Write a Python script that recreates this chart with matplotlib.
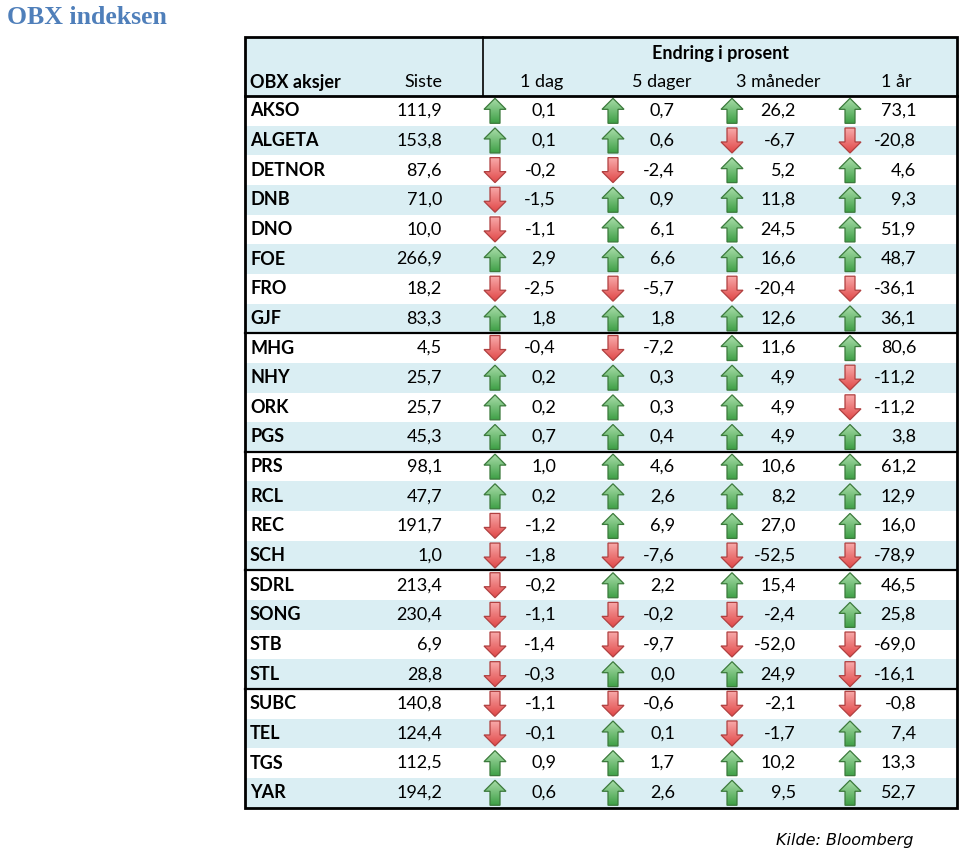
import matplotlib
matplotlib.use('Agg')
import matplotlib.pyplot as plt
from matplotlib.patches import Polygon, Rectangle
import numpy as np

tickers = ['AKSO', 'ALGETA', 'DETNOR', 'DNB', 'DNO', 'FOE', 'FRO', 'GJF',
           'MHG', 'NHY', 'ORK', 'PGS', 'PRS', 'RCL', 'REC', 'SCH',
           'SDRL', 'SONG', 'STB', 'STL', 'SUBC', 'TEL', 'TGS', 'YAR']
siste = [111.9, 153.8, 87.6, 71.0, 10.0, 266.9, 18.2, 83.3,
         4.5, 25.7, 25.7, 45.3, 98.1, 47.7, 191.7, 1.0,
         213.4, 230.4, 6.9, 28.8, 140.8, 124.4, 112.5, 194.2]
chg_1d = [0.1, 0.1, -0.2, -1.5, -1.1, 2.9, -2.5, 1.8,
          -0.4, 0.2, 0.2, 0.7, 1.0, 0.2, -1.2, -1.8,
          -0.2, -1.1, -1.4, -0.3, -1.1, -0.1, 0.9, 0.6]
chg_5d = [0.7, 0.6, -2.4, 0.9, 6.1, 6.6, -5.7, 1.8,
          -7.2, 0.3, 0.3, 0.4, 4.6, 2.6, 6.9, -7.6,
          2.2, -0.2, -9.7, 0.0, -0.6, 0.1, 1.7, 2.6]
chg_3m = [26.2, -6.7, 5.2, 11.8, 24.5, 16.6, -20.4, 12.6,
          11.6, 4.9, 4.9, 4.9, 10.6, 8.2, 27.0, -52.5,
          15.4, -2.4, -52.0, 24.9, -2.1, -1.7, 10.2, 9.5]
chg_1y = [73.1, -20.8, 4.6, 9.3, 51.9, 48.7, -36.1, 36.1,
          80.6, -11.2, -11.2, 3.8, 61.2, 12.9, 16.0, -78.9,
          46.5, 25.8, -69.0, -16.1, -0.8, 7.4, 13.3, 52.7]
col_labels = ['1 dag', '5 dager', '3 måneder', '1 år']
group_ends = [7, 11, 15, 19]  # thick line below these rows

FONT = 'Lato'
FS = 13
SHADE = '#DAEEF3'


def fmt(v):
    return f'{v:.1f}'.replace('.', ',')


def draw_arrow(ax, cx, cy, up):
    h, w, s, hh = 25, 22, 10, 11
    top, bot = cy - h / 2, cy + h / 2
    if up:
        pts = [(cx, top), (cx + w / 2, top + hh), (cx + s / 2, top + hh),
               (cx + s / 2, bot), (cx - s / 2, bot), (cx - s / 2, top + hh),
               (cx - w / 2, top + hh)]
        c1, c2, edge = '#A8DCA8', '#3FA047', '#3C7A3C'
    else:
        pts = [(cx, bot), (cx + w / 2, bot - hh), (cx + s / 2, bot - hh),
               (cx + s / 2, top), (cx - s / 2, top), (cx - s / 2, bot - hh),
               (cx - w / 2, bot - hh)]
        c1, c2, edge = '#F8A8A8', '#E04848', '#B04040'
    poly = Polygon(pts, closed=True, facecolor='none', edgecolor=edge, lw=0.9, zorder=4)
    ax.add_patch(poly)
    grad = np.linspace(0, 1, 50).reshape(-1, 1)
    cmap = matplotlib.colors.LinearSegmentedColormap.from_list('g', [c1, c2])
    im = ax.imshow(grad, cmap=cmap, extent=(cx - w / 2, cx + w / 2, bot, top),
                   aspect='auto', zorder=3, interpolation='bilinear')
    im.set_clip_path(poly)


fig = plt.figure(figsize=(9.6, 8.5), dpi=100)
ax = fig.add_axes([0, 0, 1, 1])
ax.set_xlim(0, 960)
ax.set_ylim(850, 0)
ax.axis('off')

# table geometry (pixels)
left, right = 245, 957
top, head_bot = 37, 96
row_h = 29.65
n = len(tickers)
bottom = head_bot + n * row_h
split_x = 483

# header background
ax.add_patch(Rectangle((left, top), right - left, head_bot - top, facecolor=SHADE, edgecolor='none', zorder=0))
for i in range(n):
    y0 = head_bot + i * row_h
    if i % 2 == 1:
        ax.add_patch(Rectangle((left, y0), right - left, row_h, facecolor=SHADE, edgecolor='none', zorder=0))

# borders
ax.add_patch(Rectangle((left, top), right - left, bottom - top, facecolor='none', edgecolor='black', lw=2, zorder=5))
ax.plot([left, right], [head_bot, head_bot], color='black', lw=2, zorder=5)
ax.plot([split_x, split_x], [top, head_bot], color='black', lw=1.2, zorder=5)
for g in group_ends:
    yy = head_bot + (g + 1) * row_h
    ax.plot([left, right], [yy, yy], color='black', lw=1.6, zorder=5)

# headers
ax.text(720, 53, 'Endring i prosent', ha='center', va='center', fontsize=FS, fontweight='bold', family=FONT)
ax.text(250, 82, 'OBX aksjer', ha='left', va='center', fontsize=FS, fontweight='bold', family=FONT)
ax.text(442, 82, 'Siste', ha='right', va='center', fontsize=FS, family=FONT)
head_x = [542, 662, 778, 896]
for hx, lab in zip(head_x, col_labels):
    ax.text(hx, 82, lab, ha='center', va='center', fontsize=FS, family=FONT)

arrow_x = [495, 613, 732, 850]
value_x = [556, 675, 796, 916]
changes = [chg_1d, chg_5d, chg_3m, chg_1y]

for i, t in enumerate(tickers):
    cy = head_bot + (i + 0.5) * row_h
    ax.text(250, cy, t, ha='left', va='center', fontsize=FS, fontweight='bold', family=FONT)
    ax.text(442, cy, fmt(siste[i]), ha='right', va='center', fontsize=FS, family=FONT)
    for ax_x, vx, col in zip(arrow_x, value_x, changes):
        v = col[i]
        draw_arrow(ax, ax_x, cy, v >= 0)
        ax.text(vx, cy, fmt(v), ha='right', va='center', fontsize=FS, family=FONT)

ax.text(7, 17, 'OBX indeksen', ha='left', va='center', fontsize=18.5, fontweight='bold',
        family='Liberation Serif', color='#4F7FBA')
ax.text(913, 840, 'Kilde: Bloomberg', ha='right', va='center', fontsize=11.5,
        style='italic', family='DejaVu Sans')

fig.savefig('out.png', dpi=100)
